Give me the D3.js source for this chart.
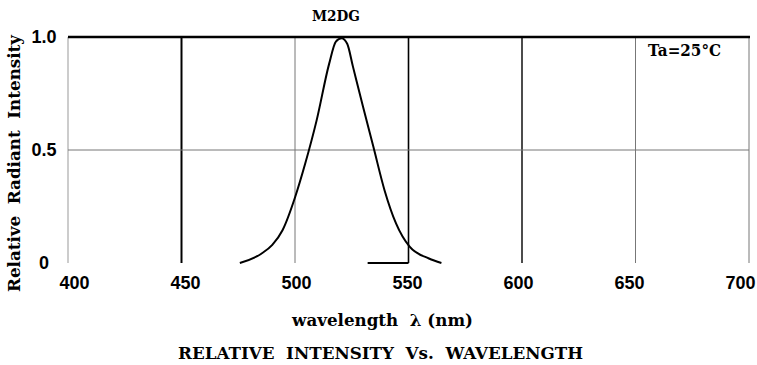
<!DOCTYPE html>
<html>
<head>
<meta charset="utf-8">
<script src="https://cdn.jsdelivr.net/npm/d3@7"></script>
<style>
  body { margin: 0; background: #fff; }
  svg { display: block; }
  .tick text { font-family: "Liberation Sans", Arial, sans-serif; font-weight: bold; font-size: 18px; fill: #000; }
  .serif { font-family: "DejaVu Serif", "Liberation Serif", serif; font-weight: bold; fill: #000; }
</style>
</head>
<body>
<svg id="chart" width="757" height="365"></svg>
<script>
// spectrum of M2DG
const wavelength = [475.7, 485, 490, 494.5, 500, 504.5, 509.5, 515, 518, 520.5, 523, 525.5, 530, 534.5, 539.5, 544.5, 550.5, 559, 564.5]
const intensity  = [0, 0.04, 0.08, 0.145, 0.29, 0.44, 0.63, 0.88, 0.98, 0.995, 0.97, 0.87, 0.69, 0.515, 0.32, 0.175, 0.072, 0.02, 0]

const xTicks = [400, 450, 500, 550, 600, 650, 700]
const yTicks = [0, 0.5, 1.0]
const yTickLabels = ['0', '0.5', '1.0']
const baseSegment = [532, 550]

// line weights of the vertical grid (scan has uneven strokes)
const vWeight = { 400: [1, '#999'], 450: [2, '#000'], 500: [1, '#777'], 550: [1.6, '#000'], 600: [1.5, '#111'], 650: [1, '#777'], 700: [1, '#777'] }

const svg = d3.select('#chart')

const x = d3.scaleLinear().domain([400, 700]).range([68, 749])
const y = d3.scaleLinear().domain([0, 1]).range([263, 37])
// tick labels in the scan sit a little inside the plot ends
const xLab = d3.scaleLinear().domain([400, 700]).range([74, 740])

// vertical grid
svg.append('g').selectAll('line')
    .data(xTicks)
    .enter()
    .append('line')
    .attr('x1', d => x(d)).attr('x2', d => x(d))
    .attr('y1', y(1)).attr('y2', y(0))
    .attr('stroke', d => vWeight[d][1])
    .attr('stroke-width', d => vWeight[d][0])

// horizontal grid at 0.5
svg.append('line')
    .attr('x1', x(400)).attr('x2', x(700))
    .attr('y1', y(0.5)).attr('y2', y(0.5))
    .attr('stroke', '#777').attr('stroke-width', 1)

// heavy top border
svg.append('line')
    .attr('x1', x(400)).attr('x2', x(700) + 1)
    .attr('y1', y(1)).attr('y2', y(1))
    .attr('stroke', '#000').attr('stroke-width', 2.5)

// short piece of baseline left in the scan
svg.append('line')
    .attr('x1', x(baseSegment[0])).attr('x2', x(baseSegment[1]))
    .attr('y1', y(0)).attr('y2', y(0))
    .attr('stroke', '#000').attr('stroke-width', 2)

// the curve
const line = d3.line()
    .x((d, i) => x(wavelength[i]))
    .y(d => y(d))
    .curve(d3.curveMonotoneX)

svg.append('path')
    .datum(intensity)
    .attr('d', line)
    .attr('fill', 'none')
    .attr('stroke', '#000')
    .attr('stroke-width', 2)

// axes (labels only)
const xAxis = svg.append('g')
    .attr('transform', `translate(0, ${y(0) + 13})`)
    .call(d3.axisBottom(xLab).tickValues(xTicks).tickSize(0).tickPadding(0).tickFormat(d3.format('d')))
xAxis.select('.domain').remove()
xAxis.selectAll('text').attr('dy', '0.71em')

const yAxis = svg.append('g')
    .attr('transform', 'translate(44, 0)')
    .call(d3.axisLeft(y).tickValues(yTicks).tickSize(0).tickPadding(0).tickFormat((d, i) => yTickLabels[i]))
yAxis.select('.domain').remove()
yAxis.selectAll('text').attr('text-anchor', 'middle')

// texts
svg.append('text').attr('class', 'serif')
    .attr('x', 336).attr('y', 21)
    .attr('text-anchor', 'middle').attr('font-size', 14)
    .attr('textLength', 48).attr('lengthAdjust', 'spacingAndGlyphs')
    .text('M2DG')

svg.append('text').attr('class', 'serif')
    .attr('x', 648).attr('y', 56)
    .attr('font-size', 16.5)
    .attr('textLength', 73).attr('lengthAdjust', 'spacingAndGlyphs')
    .text('Ta=25°C')

svg.append('text').attr('class', 'serif')
    .attr('x', 292).attr('y', 326)
    .attr('font-size', 16)
    .attr('textLength', 181).attr('lengthAdjust', 'spacingAndGlyphs')
    .attr('xml:space', 'preserve')
    .text('wavelength  λ (nm)')

svg.append('text').attr('class', 'serif')
    .attr('x', 178).attr('y', 359)
    .attr('font-size', 16)
    .attr('textLength', 405).attr('lengthAdjust', 'spacingAndGlyphs')
    .attr('xml:space', 'preserve')
    .text('RELATIVE  INTENSITY  Vs.  WAVELENGTH')

svg.append('text').attr('class', 'serif')
    .attr('transform', 'translate(20, 292) rotate(-90)')
    .attr('font-size', 17)
    .attr('textLength', 257).attr('lengthAdjust', 'spacingAndGlyphs')
    .attr('xml:space', 'preserve')
    .text('Relative  Radiant  Intensity')
</script>
</body>
</html>
